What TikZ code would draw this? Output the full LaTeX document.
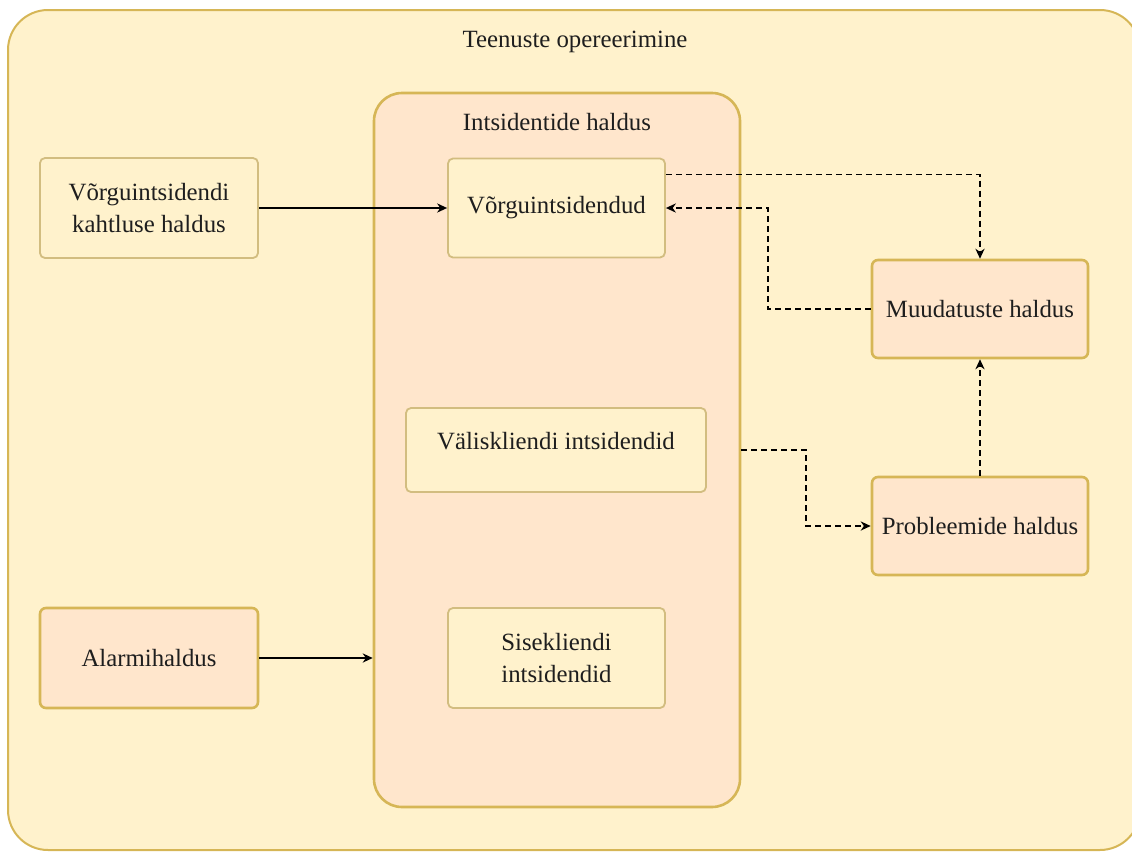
\documentclass[tikz,border=0pt]{standalone}
\usepackage{fontspec}
\setmainfont{Liberation Serif}
\usetikzlibrary{arrows.meta,calc}
\definecolor{paleyellow}{HTML}{FFF2CC}
\definecolor{palepeach}{HTML}{FFE6CC}
\definecolor{goldline}{HTML}{D6B656}
\definecolor{softgold}{HTML}{D2BD80}
\definecolor{inktext}{HTML}{1E1E1E}
\begin{document}
\begin{tikzpicture}[x=0.5pt,y=-0.5pt,
  font=\fontsize{12.4}{16}\selectfont, text=inktext,
  lightbox/.style={draw=softgold, fill=paleyellow, line width=0.9pt,
    rounded corners=2.5pt, align=center, inner sep=0pt},
  peachbox/.style={draw=goldline, fill=palepeach, line width=1.3pt,
    rounded corners=3pt, align=center, inner sep=0pt},
  container/.style={draw=goldline, fill=palepeach, line width=1.3pt,
    rounded corners=14pt, inner sep=0pt},
  title/.style={inner sep=0pt},
  flow/.style={line width=0.7pt, draw=black,
    -{Stealth[length=5pt,width=4.6pt,inset=1.6pt]}},
  depend/.style={flow, dash pattern=on 3pt off 2pt}]
\useasboundingbox (0,0) rectangle (1132,852);
\clip (0,0) rectangle (1132,852);

% outer container
\draw[draw=goldline, fill=paleyellow, line width=1pt, rounded corners=20pt]
  (8,10) rectangle (1140,850);
\node[title] (outertitle) at (575,42) {Teenuste opereerimine};

% incident management container
\node[container, minimum width=183pt, minimum height=357pt] (inner) at (557,450) {};
\node[title] (innertitle) at (557,122) {Intsidentide haldus};

% boxes
\node[lightbox, minimum width=109pt, minimum height=50pt] (kaht) at (149,208)
  {Võrguintsidendi\\kahtluse haldus};
\node[lightbox, minimum width=108.5pt, minimum height=49.5pt] (vorgu) at (556.5,208)
  {Võrguintsidendud};
\node[lightbox, minimum width=150pt, minimum height=42pt, text depth=9pt] (valis) at (556,450)
  {Väliskliendi intsidendid};
\node[lightbox, minimum width=108.5pt, minimum height=50pt] (sise) at (556.5,658)
  {Sisekliendi\\intsidendid};
\node[peachbox, minimum width=109pt, minimum height=50pt] (alarm) at (149,658)
  {Alarmihaldus};
\node[peachbox, minimum width=108pt, minimum height=49pt] (muud) at (980,309)
  {Muudatuste haldus};
\node[peachbox, minimum width=108pt, minimum height=49pt] (probl) at (980,526)
  {Probleemide haldus};

% bend points
\coordinate (backx) at (768,0);
\coordinate (probx) at (806,0);

% connectors
\draw[flow] (kaht.east) -- (kaht.east -| vorgu.west);
\draw[flow] (alarm.east) -- (alarm.east -| inner.west);
\draw[depend] ($(vorgu.north east)+(0,17)$) -| (muud.north);
\draw[depend] (muud.west) -| (backx |- vorgu.east) -- (vorgu.east);
\draw[depend] (inner.east) -| (probx |- probl.west) -- (probl.west);
\draw[depend] (probl.north) -- (muud.south);
\end{tikzpicture}
\end{document}
